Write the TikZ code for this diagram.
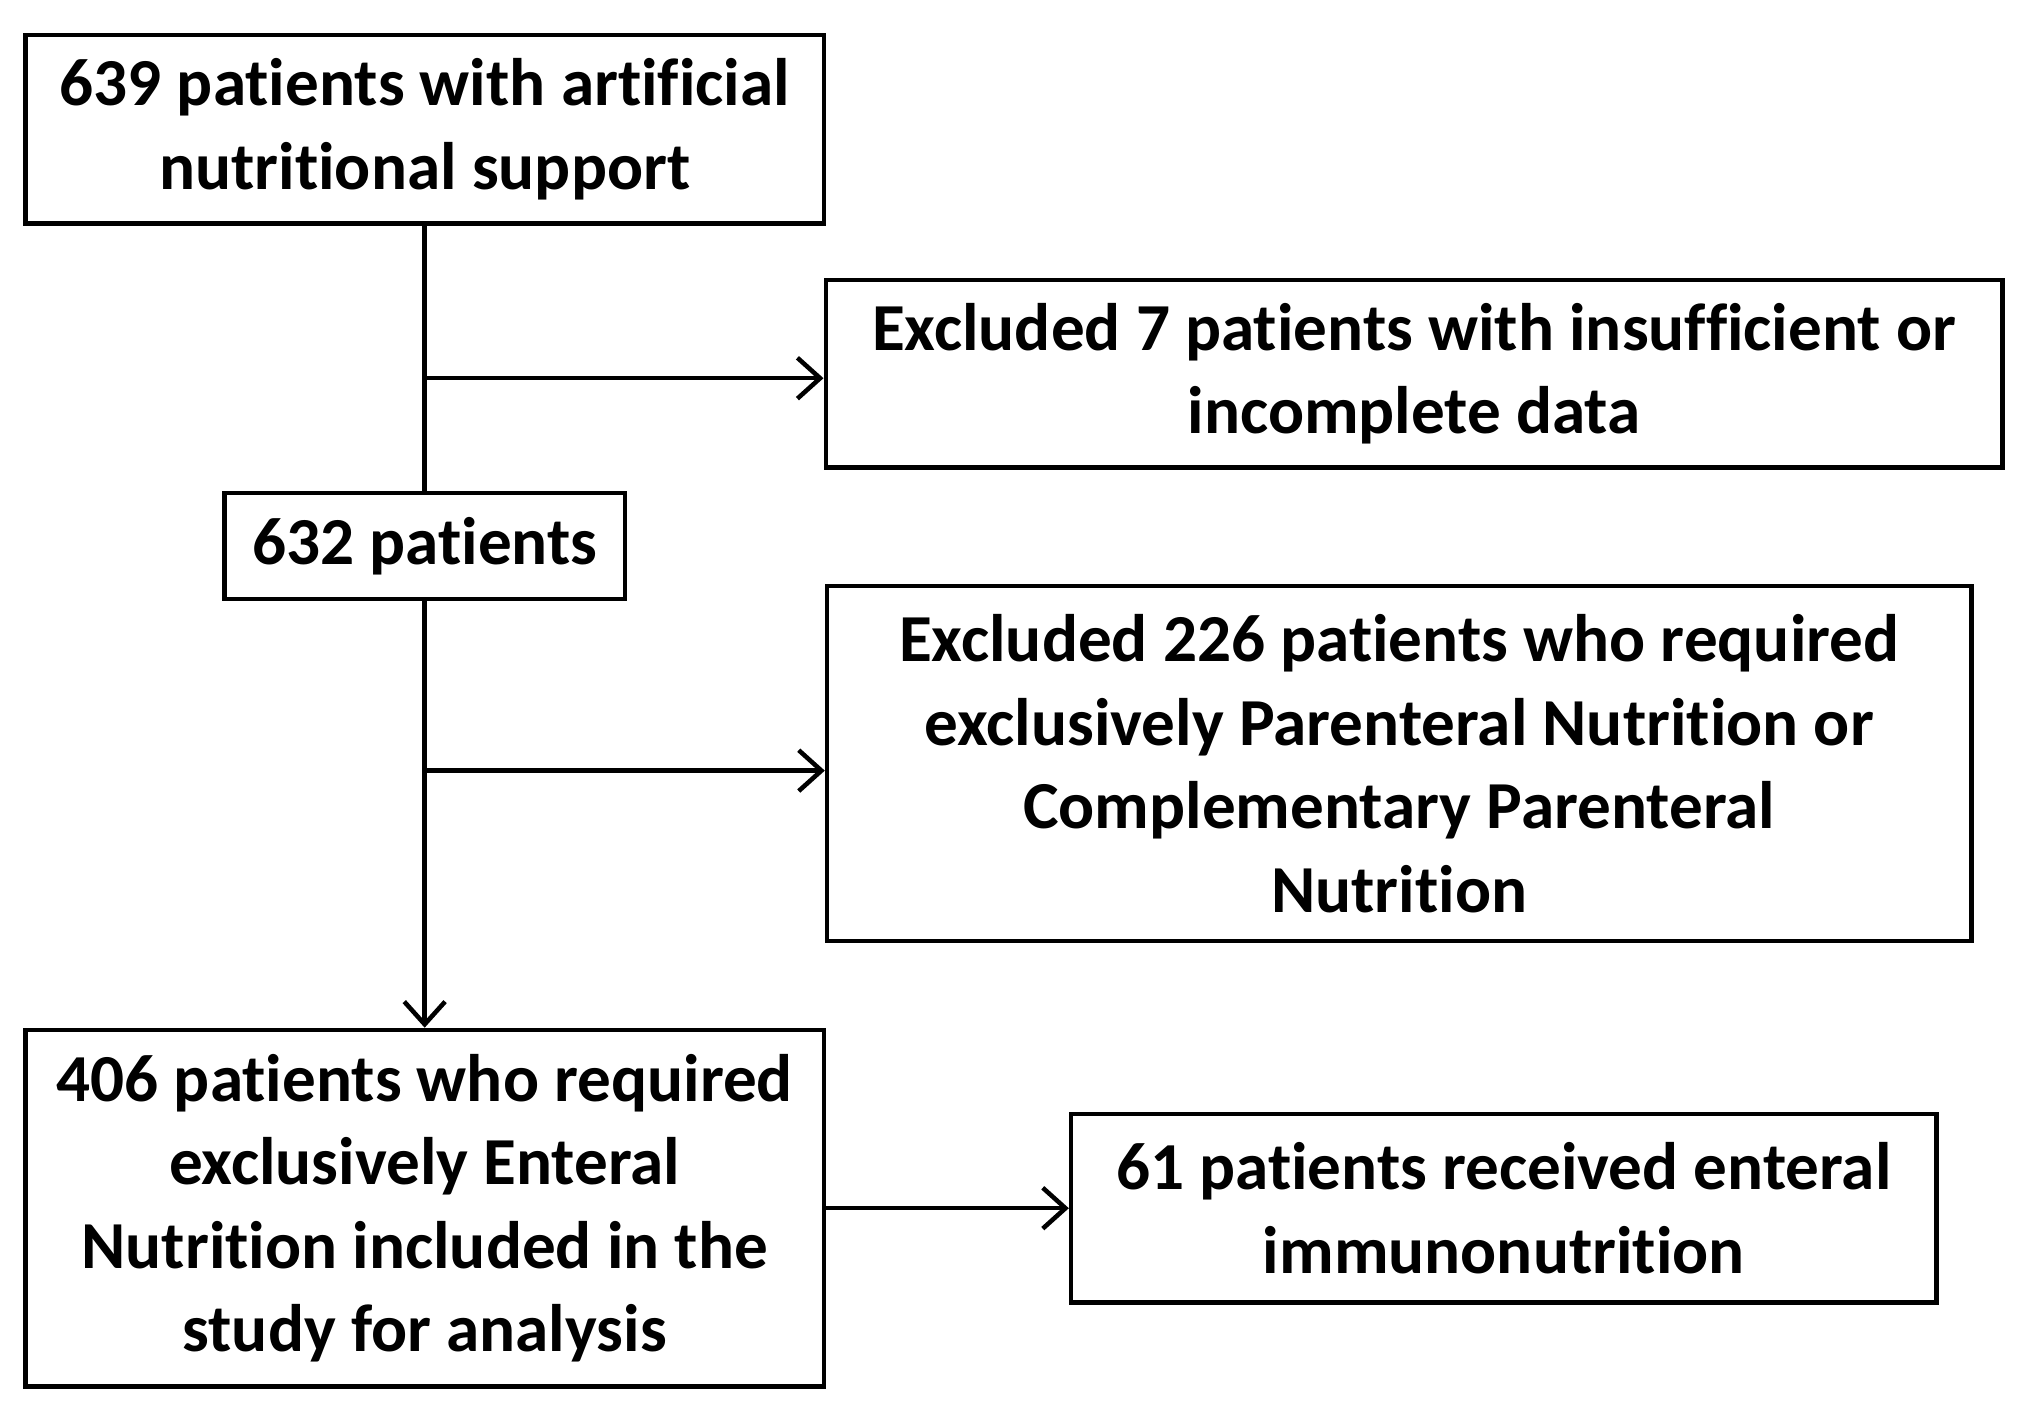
\documentclass[tikz,border=0pt]{standalone}
\usepackage{fontspec}
\setmainfont[RawFeature={-liga;-dlig;-clig}]{Carlito}
\usetikzlibrary{arrows.meta}
\begin{document}
\begin{tikzpicture}[x=0.01cm,y=-0.01cm,
 box/.style={draw,line width=1pt,inner sep=0pt,align=center,font=\bfseries\fontsize{14.8}{18.4}\selectfont},
 arr/.style={line width=1pt,-{Straight Barb[length=5pt,width=9pt]}},
 ln/.style={line width=1pt}]
\useasboundingbox (0,0) rectangle (1568,1103);
\node[box,minimum width=6.18cm,minimum height=1.46cm] (b1) at (329,100) {639 patients with artificial\\nutritional support};
\node[box,minimum width=9.11cm,minimum height=1.45cm] (b2) at (1095.5,289.5) {Excluded 7 patients with insufficient or\\incomplete data};
\node[box,minimum width=3.10cm,minimum height=0.82cm] (b3) at (329,423) {632 patients};
\node[box,minimum width=8.86cm,minimum height=2.75cm] (b4) at (1084,591.5) {Excluded 226 patients who required\\exclusively Parenteral Nutrition or\\Complementary Parenteral\\Nutrition};
\node[box,minimum width=6.18cm,minimum height=2.76cm] (b5) at (329,936) {406 patients who required\\exclusively Enteral\\Nutrition included in the\\study for analysis};
\node[box,minimum width=6.70cm,minimum height=1.46cm] (b6) at (1165,936) {61 patients received enteral\\immunonutrition};
\draw[ln] (b1.south) -- (b3.north);
\coordinate (j1) at (329,293);
\draw[arr] (j1) -- (j1 -| b2.west);
\draw[arr] (b3.south) -- (b5.north);
\coordinate (j2) at (329,597);
\draw[arr] (j2) -- (j2 -| b4.west);
\draw[arr] (b5.east) -- (b6.west);
\end{tikzpicture}
\end{document}
